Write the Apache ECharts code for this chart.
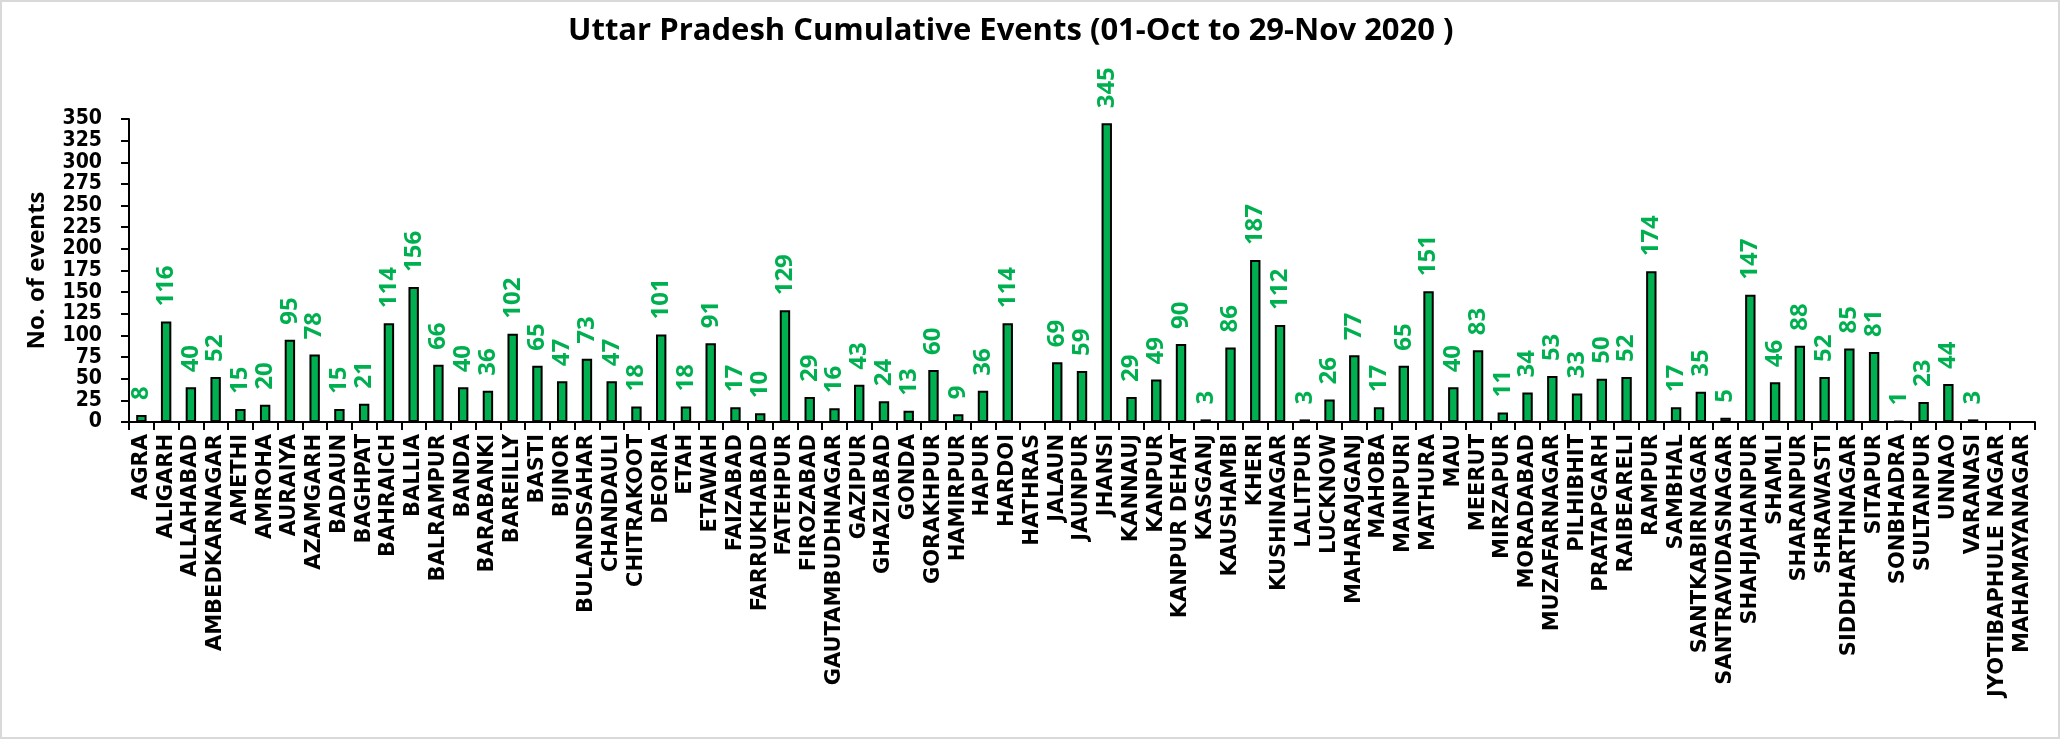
<!DOCTYPE html>
<html><head><meta charset="utf-8">
<script src="https://cdn.jsdelivr.net/npm/echarts@6/dist/echarts.min.js"></script>
<style>html,body{margin:0;padding:0;background:#fff}#c{width:2060px;height:739px;box-sizing:border-box;border:2px solid #d9d9d9}</style>
</head><body><div id="c"></div>
<script>
const categories = ["AGRA","ALIGARH","ALLAHABAD","AMBEDKARNAGAR","AMETHI","AMROHA","AURAIYA","AZAMGARH","BADAUN","BAGHPAT","BAHRAICH","BALLIA","BALRAMPUR","BANDA","BARABANKI","BAREILLY","BASTI","BIJNOR","BULANDSAHAR","CHANDAULI","CHITRAKOOT","DEORIA","ETAH","ETAWAH","FAIZABAD","FARRUKHABAD","FATEHPUR","FIROZABAD","GAUTAMBUDHNAGAR","GAZIPUR","GHAZIABAD","GONDA","GORAKHPUR","HAMIRPUR","HAPUR","HARDOI","HATHRAS","JALAUN","JAUNPUR","JHANSI","KANNAUJ","KANPUR","KANPUR DEHAT","KASGANJ","KAUSHAMBI","KHERI","KUSHINAGAR","LALITPUR","LUCKNOW","MAHARAJGANJ","MAHOBA","MAINPURI","MATHURA","MAU","MEERUT","MIRZAPUR","MORADABAD","MUZAFARNAGAR","PILHIBHIT","PRATAPGARH","RAIBEARELI","RAMPUR","SAMBHAL","SANTKABIRNAGAR","SANTRAVIDASNAGAR","SHAHJAHANPUR","SHAMLI","SHARANPUR","SHRAWASTI","SIDDHARTHNAGAR","SITAPUR","SONBHADRA","SULTANPUR","UNNAO","VARANASI","JYOTIBAPHULE NAGAR","MAHAMAYANAGAR"];
const events = [8,116,40,52,15,20,95,78,15,21,114,156,66,40,36,102,65,47,73,47,18,101,18,91,17,10,129,29,16,43,24,13,60,9,36,114,null,69,59,345,29,49,90,3,86,187,112,3,26,77,17,65,151,40,83,11,34,53,33,50,52,174,17,35,5,147,46,88,52,85,81,1,23,44,3,null,null];
const titleText = "Uttar Pradesh Cumulative Events (01-Oct to 29-Nov 2020 )";
const yAxisName = "No. of events";

const chart = echarts.init(document.getElementById('c'));
const condensed = '"DejaVu Sans Condensed","Liberation Sans Narrow","Open Sans",sans-serif';
chart.setOption({
  animation:false,
  title:{text:titleText,left:561,top:9,padding:5,
    textStyle:{fontFamily:'"Open Sans",sans-serif',fontWeight:'bold',fontSize:31,color:'#000'}},
  grid:{left:127,right:23,top:117,bottom:315,containLabel:false},
  xAxis:{type:'category',data:categories,
    axisLine:{lineStyle:{color:'#000',width:2}},
    axisTick:{show:true,alignWithLabel:false,length:8,lineStyle:{color:'#000',width:2}},
    axisLabel:{interval:0,rotate:90,color:'#000',fontWeight:'bold',fontSize:21,fontFamily:'"DejaVu Sans",sans-serif',margin:12}},
  yAxis:{type:'value',min:0,max:350,interval:25,name:yAxisName,nameLocation:'middle',nameGap:80,
    nameTextStyle:{fontWeight:'bold',fontSize:24,color:'#000',fontFamily:'"Open Sans",sans-serif'},
    axisLine:{show:true,lineStyle:{color:'#000',width:2}},
    axisTick:{show:true,length:8,lineStyle:{color:'#000',width:2}},
    splitLine:{show:false},
    axisLabel:{showMinLabel:true,showMaxLabel:true,hideOverlap:false,color:'#000',fontWeight:'bold',fontSize:21,lineHeight:20,fontFamily:condensed,margin:27}},
  series:[{type:'bar',data:events,barWidth:'42%',
    itemStyle:{color:'#00B050',borderColor:'#000',borderWidth:2},
    label:{show:true,position:'top',rotate:90,align:'left',verticalAlign:'middle',distance:15,
      color:'#00B050',fontWeight:'bold',fontSize:24,fontFamily:'"Open Sans",sans-serif'}}]
});
</script></body></html>
